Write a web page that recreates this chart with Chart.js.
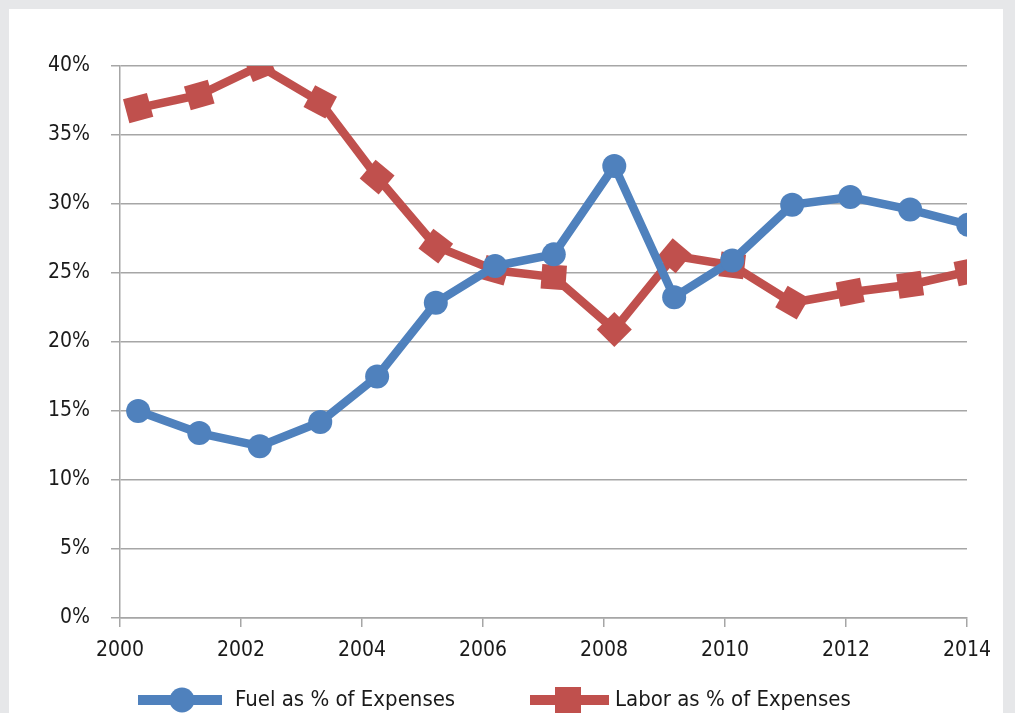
<!DOCTYPE html>
<html>
<head>
<meta charset="utf-8">
<script src="https://cdn.jsdelivr.net/npm/chart.js@4.4.1/dist/chart.umd.min.js"></script>
<style>
  html, body { margin: 0; padding: 0; background: #e6e7e9; overflow: hidden; }
  #panel { position: absolute; left: 9px; top: 9px; width: 994px; height: 704px; background: #ffffff; }
  #chart { display: block; }
</style>
</head>
<body>
<div id="panel"><canvas id="chart" width="994" height="704"></canvas></div>
<script>
// positions of each observation along the year axis
const years = [2000.30, 2001.31, 2002.31, 2003.31, 2004.25, 2005.22, 2006.20, 2007.17,
               2008.17, 2009.16, 2010.12, 2011.11, 2012.07, 2013.06, 2014.02];

// fuel as % of expenses
const fuel = [15.0, 13.4, 12.45, 14.2, 17.5, 22.85, 25.5, 26.35,
              32.75, 23.25, 25.9, 29.95, 30.5, 29.6, 28.5];

// labor as % of expenses
const labor = [36.95, 37.9, 40.0, 37.4, 31.95, 26.95, 25.2, 24.7,
               20.9, 26.25, 25.55, 22.85, 23.6, 24.15, 25.1];

const labels = ["Fuel as % of Expenses", "Labor as % of Expenses"];

const fuel_colour = "#4f81bd";
const labor_colour = "#c0504d";
const grid_colour = "#a6a6a6";
const font_family = '"Liberation Sans Narrow", "DejaVu Sans Condensed", "Roboto Condensed", Arial, sans-serif';

// tilt of each square marker, as drawn in the original
const square_tilt = [-15, -16, -22, 28, 40, 37, 16, 4, 45, 40, 7, 30, -11, -8, -12];

const toPoints = (vals) => vals.map((v, i) => ({ x: years[i], y: v }));

// draws the line+marker legend under the axis (cut off by the page edge like the original)
const lineLegend = {
  id: "lineLegend",
  afterDraw(chart) {
    const ctx = chart.ctx;
    const y = 691;
    const items = [
      { x0: 129, x1: 213, mx: 173, tx: 226, colour: fuel_colour, shape: "circle", text: labels[0] },
      { x0: 521, x1: 600, mx: 559, tx: 606, colour: labor_colour, shape: "square", text: labels[1] }
    ];
    ctx.save();
    items.forEach(it => {
      ctx.strokeStyle = it.colour;
      ctx.fillStyle = it.colour;
      ctx.lineWidth = 10;
      ctx.beginPath();
      ctx.moveTo(it.x0, y);
      ctx.lineTo(it.x1, y);
      ctx.stroke();
      ctx.beginPath();
      if (it.shape === "circle") {
        ctx.arc(it.mx, y, 12.5, 0, Math.PI * 2);
      } else {
        ctx.rect(it.mx - 13, y - 13, 26, 26);
      }
      ctx.fill();
      ctx.fillStyle = "#1a1a1a";
      ctx.font = "22px " + font_family;
      ctx.textBaseline = "middle";
      ctx.textAlign = "left";
      ctx.fillText(it.text, it.tx, y);
    });
    ctx.restore();
  }
};

new Chart(document.getElementById("chart").getContext("2d"), {
  type: "line",
  data: {
    datasets: [
      {
        label: labels[0],
        data: toPoints(fuel),
        borderColor: fuel_colour,
        backgroundColor: fuel_colour,
        borderWidth: 8.5,
        pointStyle: "circle",
        pointRadius: 12,
        pointBorderWidth: 0,
        pointHoverRadius: 12,
        tension: 0
      },
      {
        label: labels[1],
        data: toPoints(labor),
        borderColor: labor_colour,
        backgroundColor: labor_colour,
        borderWidth: 8.5,
        pointStyle: "rect",
        pointRadius: 17.5,
        pointRotation: square_tilt,
        pointBorderWidth: 0,
        pointHoverRadius: 17.5,
        tension: 0
      }
    ]
  },
  options: {
    responsive: false,
    animation: false,
    layout: { padding: { top: 57, right: 36, left: 0, bottom: 0 } },
    plugins: {
      legend: { display: false },
      tooltip: { enabled: false }
    },
    scales: {
      x: {
        type: "linear",
        min: 2000,
        max: 2014,
        afterFit: (scale) => { scale.height = 95; },
        ticks: {
          stepSize: 2,
          padding: 11,
          color: "#1a1a1a",
          font: { family: font_family, size: 21 },
          maxRotation: 0,
          callback: (v) => String(v)
        },
        grid: { drawOnChartArea: false, color: grid_colour, tickLength: 9, lineWidth: 1.5 },
        border: { color: grid_colour, width: 1.5 }
      },
      y: {
        min: 0,
        max: 40,
        afterFit: (scale) => { scale.width = 111; },
        ticks: {
          stepSize: 5,
          padding: 21,
          color: "#1a1a1a",
          font: { family: font_family, size: 21 },
          callback: (v) => v + "%"
        },
        grid: { color: grid_colour, tickLength: 9, lineWidth: 1.5 },
        border: { color: grid_colour, width: 1.5 }
      }
    }
  },
  plugins: [lineLegend]
});
</script>
</body>
</html>
